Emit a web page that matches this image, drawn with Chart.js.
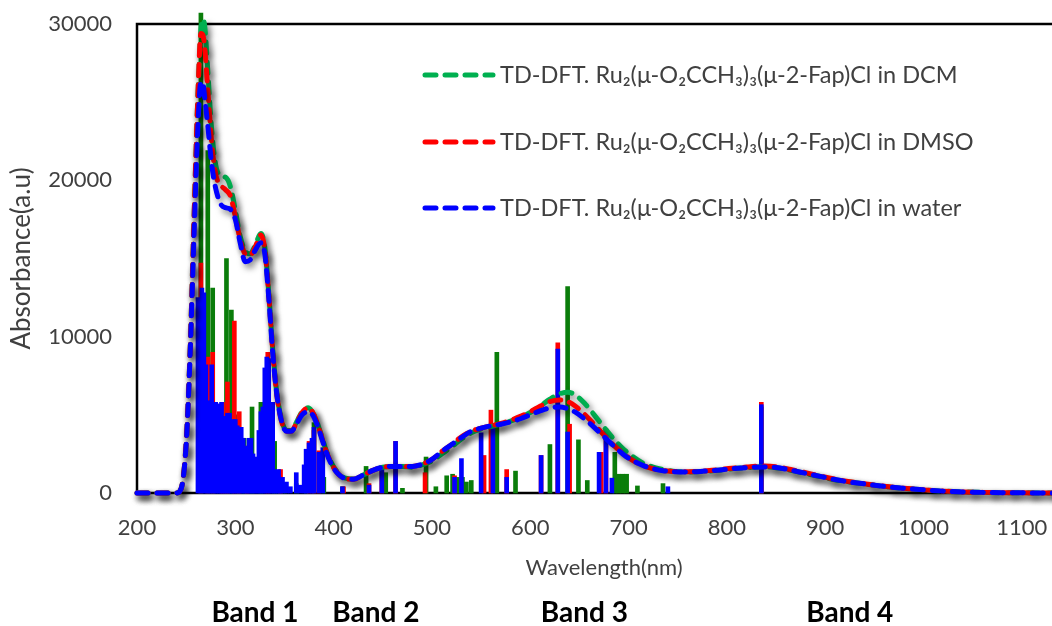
<!DOCTYPE html>
<html>
<head>
<meta charset="utf-8">
<script src="https://cdn.jsdelivr.net/npm/chart.js@4.4.1/dist/chart.umd.min.js"></script>
<style>
  html, body { margin: 0; padding: 0; background: #ffffff; overflow: hidden; }
  #wrap { width: 1080px; height: 626px; }
</style>
</head>
<body>
<div id="wrap"><canvas id="spectra" width="1080" height="626"></canvas></div>
<script>
// Broadened TD-DFT spectra (absorbance, a.u.) on a shared wavelength grid (nm)
const wavelength = [
  200, 240, 245, 250, 254, 258, 262, 265, 267, 269,
  272, 276, 280, 285, 290, 295, 300, 305, 310, 315,
  320, 326, 330, 334, 338, 342, 347, 352, 357, 362,
  368, 374, 380, 386, 392, 398, 405, 412, 420, 430,
  440, 450, 460, 470, 480, 490, 500, 510, 520, 530,
  540, 550, 560, 570, 580, 590, 600, 610, 620, 630,
  638, 645, 655, 665, 675, 685, 695, 705, 715, 725,
  735, 745, 760, 775, 790, 805, 820, 835, 850, 865,
  880, 895, 910, 925, 940, 960, 980, 1000, 1020, 1040,
  1060, 1080, 1100, 1150
];
const absDCM = [
  0, 0, 300, 3200, 9000, 17500, 25500, 29600, 30300, 29800,
  27000, 23200, 21000, 20300, 20200, 19600, 18100, 16400, 15500, 15300,
  15800, 16600, 15700, 12800, 9200, 6500, 4700, 4000, 4000, 4500,
  5200, 5450, 5000, 4000, 2800, 1900, 1250, 950, 900, 1150,
  1450, 1650, 1700, 1700, 1650, 1800, 2050, 2500, 2950, 3450,
  3850, 4100, 4250, 4400, 4600, 4850, 5150, 5550, 6000, 6350,
  6450, 6300, 5750, 5000, 4200, 3450, 2800, 2300, 1900, 1650,
  1500, 1400, 1350, 1380, 1450, 1550, 1620, 1680, 1620, 1450,
  1250, 1050, 850, 700, 580, 420, 300, 200, 120, 70,
  40, 20, 10, 0
];
const absDMSO = [
  0, 0, 300, 3200, 9000, 17500, 25500, 29400, 29300, 28400,
  25800, 22400, 20400, 19700, 19400, 19000, 17700, 16200, 15300, 15200,
  15700, 16500, 15600, 12700, 9100, 6400, 4600, 3950, 3950, 4450,
  5150, 5450, 5000, 3950, 2750, 1850, 1200, 920, 880, 1150,
  1450, 1650, 1700, 1700, 1700, 1850, 2150, 2650, 3100, 3600,
  3950, 4150, 4300, 4450, 4650, 4900, 5200, 5550, 5850, 5950,
  5850, 5600, 5050, 4400, 3700, 3050, 2500, 2050, 1750, 1550,
  1430, 1380, 1360, 1400, 1480, 1580, 1660, 1720, 1680, 1500,
  1300, 1080, 880, 720, 590, 430, 300, 200, 120, 70,
  40, 20, 10, 0
];
const absWater = [
  0, 0, 300, 3100, 8800, 16500, 23500, 26300, 26200, 25200,
  23500, 21000, 19500, 18500, 18250, 18150, 17500, 16000, 14800, 14900,
  15500, 16000, 15300, 12500, 9000, 6400, 4600, 3950, 3950, 4400,
  5000, 5200, 4850, 3850, 2700, 1800, 1200, 920, 880, 1150,
  1450, 1650, 1700, 1700, 1700, 1850, 2150, 2650, 3100, 3550,
  3950, 4150, 4300, 4400, 4550, 4750, 5000, 5250, 5450, 5500,
  5400, 5200, 4750, 4200, 3600, 3000, 2450, 2050, 1750, 1550,
  1420, 1370, 1350, 1390, 1460, 1550, 1620, 1670, 1630, 1460,
  1260, 1060, 860, 700, 580, 420, 300, 200, 120, 70,
  40, 20, 10, 0
];

// Individual excitations (stick spectra): wavelength (nm) and intensity
const sticksDCMnm  = [265, 272, 277, 291, 296, 303, 309, 317, 326, 340, 345, 350, 362, 372, 380, 390, 409, 433, 453, 470,
                      494, 504, 515, 521, 526, 531, 535, 540, 566, 585, 620, 638, 649, 658, 686, 690, 694, 698, 709, 735, 835];
const sticksDCMval = [30700, 21900, 13100, 15000, 11700, 5000, 3500, 5500, 5800, 3300, 1000, 600, 600, 1500, 4500, 1000, 400, 1700, 1300, 300,
                      2300, 400, 1100, 1200, 1000, 1000, 700, 800, 9000, 1400, 3100, 13200, 3400, 800, 2600, 1200, 1200, 1200, 450, 600, 5500];

const sticksDMSOnm  = [265, 272, 277, 287, 292, 299, 304, 312, 333, 346, 375, 380, 385, 410, 436, 449, 463, 493, 523, 553,
                       560, 576, 611, 628, 640, 672, 677, 835];
const sticksDMSOval = [14700, 8700, 9000, 5800, 7100, 11000, 5200, 3000, 9000, 1500, 3300, 4000, 2700, 400, 600, 1500, 3300, 1300, 1100, 2400,
                       5300, 1500, 2400, 9600, 4400, 2600, 4100, 5800];

const sticksWaterNm  = [262, 264, 266, 268, 270, 272, 274, 276, 278, 280, 282, 284, 286, 288, 290, 292, 294, 296, 298, 300,
                        302, 304, 306, 308, 310, 312, 314, 316, 318, 320, 322, 324, 326, 328, 330, 332, 334, 336, 338, 340,
                        342, 344, 346, 348, 352, 356, 362, 366, 370, 372, 375, 378, 380, 385, 389, 409, 436, 449, 463, 523,
                        530, 550, 562, 576, 611, 628, 638, 670, 677, 683, 740, 835];
const sticksWaterVal = [12500, 12300, 13100, 12800, 8200, 5800, 5900, 8200, 5800, 5800, 5000, 5700, 5800, 4900, 4900, 5100, 5100, 4400, 4700, 4700,
                        4300, 4200, 4200, 3500, 2950, 3000, 3500, 3500, 2500, 2100, 2300, 4000, 5200, 5500, 8000, 8700, 8600, 5800, 5800, 1500,
                        1200, 1500, 900, 1000, 700, 400, 1300, 500, 1800, 2800, 3200, 3500, 4200, 2600, 2900, 400, 500, 1500, 3300, 1000,
                        2200, 3850, 4200, 1000, 2400, 9200, 3900, 2600, 4000, 950, 400, 5650];

const seriesLabels = [
  'TD-DFT. Ru\u2082(\u03BC-O\u2082CCH\u2083)\u2083(\u03BC-2-Fap)Cl in DCM',
  'TD-DFT. Ru\u2082(\u03BC-O\u2082CCH\u2083)\u2083(\u03BC-2-Fap)Cl in DMSO',
  'TD-DFT. Ru\u2082(\u03BC-O\u2082CCH\u2083)\u2083(\u03BC-2-Fap)Cl in water'
];
const bandLabels = ['Band 1', 'Band 2', 'Band 3', 'Band 4'];
const bandCentres = [320, 443, 655, 925];
const xTicks = [200, 300, 400, 500, 600, 700, 800, 900, 1000, 1100];
const yTicks = [0, 10000, 20000, 30000];

const FONT = "Lato, 'Noto Sans', 'DejaVu Sans', sans-serif";
const LINE_COLORS = ['#00b050', '#ff0000', '#0000ff'];
const STICK_COLORS = ['#0a7d0a', '#ff0000', '#0000ff'];
const DASH = [11, 9];

function curve(label, values, color, order) {
  return {
    type: 'line', label,
    data: wavelength.map((x, i) => ({ x, y: values[i] })),
    borderColor: color, borderWidth: 5, borderDash: DASH,
    borderCapStyle: 'round', borderJoinStyle: 'round',
    pointRadius: 0, fill: false, cubicInterpolationMode: 'monotone',
    clip: false, order
  };
}
function sticks(label, nm, values, color, order) {
  return {
    type: 'bar', label,
    data: nm.map((x, i) => ({ x, y: values[i] })),
    backgroundColor: color, barThickness: 4, grouped: false,
    clip: false, order
  };
}

// Plot frame around the chart area
const framePlugin = {
  id: 'frame',
  beforeDatasetsDraw(chart) {
    const { ctx, chartArea: a } = chart;
    ctx.save();
    ctx.strokeStyle = '#000000';
    ctx.lineWidth = 2.5;
    ctx.strokeRect(a.left, a.top, a.right - a.left, a.bottom - a.top);
    ctx.restore();
  }
};

// Soft drop shadow under the broadened curves
const shadowPlugin = {
  id: 'curveShadow',
  beforeDatasetDraw(chart, args) {
    if (chart.data.datasets[args.index].type !== 'line') return;
    const ctx = chart.ctx;
    ctx.save();
    ctx.shadowColor = 'rgba(0,0,0,0.5)';
    ctx.shadowBlur = 6;
    ctx.shadowOffsetX = 3;
    ctx.shadowOffsetY = 4;
  },
  afterDatasetDraw(chart, args) {
    if (chart.data.datasets[args.index].type !== 'line') return;
    chart.ctx.restore();
  }
};

// Legend drawn inside the plot area, one widely spaced row per solvent
const legendPlugin = {
  id: 'insideLegend',
  afterDatasetsDraw(chart) {
    const ctx = chart.ctx;
    const rows = [75, 142, 208];
    ctx.save();
    seriesLabels.forEach((text, i) => {
      const y = rows[i];
      ctx.strokeStyle = LINE_COLORS[i];
      ctx.lineWidth = 5;
      ctx.lineCap = 'round';
      ctx.setLineDash(DASH);
      ctx.beginPath();
      ctx.moveTo(425, y);
      ctx.lineTo(493, y);
      ctx.stroke();
      ctx.setLineDash([]);
      ctx.fillStyle = '#404040';
      ctx.font = '23.5px ' + FONT;
      ctx.textAlign = 'left';
      ctx.textBaseline = 'middle';
      ctx.fillText(text, 500, y);
    });
    ctx.restore();
  }
};

// Band names under the wavelength axis
const bandPlugin = {
  id: 'bands',
  afterDraw(chart) {
    const ctx = chart.ctx;
    const xs = chart.scales.x;
    ctx.save();
    ctx.fillStyle = '#000000';
    ctx.font = 'bold 28px ' + FONT;
    ctx.textAlign = 'center';
    ctx.textBaseline = 'middle';
    bandLabels.forEach((t, i) => ctx.fillText(t, xs.getPixelForValue(bandCentres[i]), 613));
    ctx.restore();
  }
};

new Chart(document.getElementById('spectra'), {
  type: 'line',
  data: {
    datasets: [
      curve(seriesLabels[2], absWater, LINE_COLORS[2], 0),
      curve(seriesLabels[1], absDMSO, LINE_COLORS[1], 1),
      curve(seriesLabels[0], absDCM, LINE_COLORS[0], 2),
      sticks('water', sticksWaterNm, sticksWaterVal, STICK_COLORS[2], 3),
      sticks('DMSO', sticksDMSOnm, sticksDMSOval, STICK_COLORS[1], 4),
      sticks('DCM', sticksDCMnm, sticksDCMval, STICK_COLORS[0], 5)
    ]
  },
  options: {
    responsive: false,
    animation: false,
    layout: { padding: { left: 0, top: 24, right: 9, bottom: 0 } },
    plugins: { legend: { display: false }, tooltip: { enabled: false } },
    scales: {
      x: {
        type: 'linear', min: 200, max: 1150, offset: false,
        afterBuildTicks(s) { s.ticks = xTicks.map(v => ({ value: v })); },
        afterFit(s) { s.height = 133; },
        grid: { display: false, drawTicks: false },
        border: { display: false },
        ticks: {
          autoSkip: false, maxRotation: 0, padding: 22,
          color: '#404040', font: { family: FONT, size: 22 },
          callback: v => String(v)
        },
        title: {
          display: true, text: 'Wavelength(nm)', color: '#404040',
          font: { family: FONT, size: 22 }, padding: { top: 0, bottom: 45 }
        }
      },
      y: {
        min: 0, max: 30000,
        afterBuildTicks(s) { s.ticks = yTicks.map(v => ({ value: v })); },
        afterFit(s) { s.width = 137; s.paddingTop = 13; s.paddingBottom = 13; },
        grid: { display: false, drawTicks: false },
        border: { display: false },
        ticks: {
          padding: 25, color: '#404040', font: { family: FONT, size: 22 },
          callback: v => String(v)
        },
        title: {
          display: true, text: 'Absorbance(a.u)', color: '#404040',
          font: { family: FONT, size: 26 }, padding: { top: 6, bottom: 0 }
        }
      }
    }
  },
  plugins: [framePlugin, shadowPlugin, legendPlugin, bandPlugin]
});
</script>
</body>
</html>
